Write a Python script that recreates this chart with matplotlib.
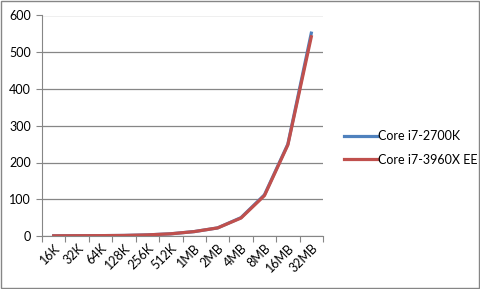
import numpy as np
import matplotlib
matplotlib.use('Agg')
import matplotlib.pyplot as plt
from matplotlib.patches import Rectangle

plt.rcParams['font.family'] = ['Lato', 'DejaVu Sans']

# Data
sizes = ['16K', '32K', '64K', '128K', '256K', '512K', '1MB', '2MB', '4MB', '8MB', '16MB', '32MB']
core_2700k = [0.5, 0.8, 1.0, 1.5, 3, 6, 12, 22, 50, 112, 250, 552]
core_3960x = [0.5, 0.8, 1.0, 1.5, 3, 6, 12, 22, 49, 110, 248, 542]

fig = plt.figure(figsize=(4.8, 2.89), dpi=100)
ax = fig.add_axes([42 / 480, 1 - 236 / 289, 281 / 480, 220.5 / 289])

x = np.arange(len(sizes))
ax.plot(x, core_2700k, color='#4F81BD', linewidth=2.3, label='Core i7-2700K', zorder=3)
ax.plot(x, core_3960x, color='#C0504D', linewidth=2.3, label='Core i7-3960X EE', zorder=4)

ax.set_xlim(-0.5, len(sizes) - 0.5)
ax.set_ylim(0, 600)
ax.set_yticks(np.arange(0, 601, 100))
ax.set_xticks(np.arange(-0.5, len(sizes), 1), minor=False)
ax.set_xticklabels([])
ax.set_xticks(x, minor=True)
ax.set_xticklabels(sizes, minor=True, rotation=45, ha='right', rotation_mode='anchor')
ax.tick_params(axis='x', which='minor', length=0, pad=4, labelsize=9, colors='#000000')
ax.tick_params(axis='x', which='major', length=4, color='#868686', direction='out')
ax.tick_params(axis='y', length=4, color='#868686', labelsize=9, pad=4)

ax.grid(axis='y', color='#868686', linewidth=0.9)
ax.set_axisbelow(True)
for s in ['top', 'right']:
    ax.spines[s].set_visible(False)
ax.spines['left'].set_color('#868686')
ax.spines['bottom'].set_color('#868686')

fig.legend(loc='upper left', bbox_to_anchor=(333 / 480, 1 - 119 / 289), frameon=False,
           fontsize=9, handlelength=2.6, handletextpad=0.1, labelspacing=0.9)

fig.patches.append(Rectangle((0.002, 0.003), 0.995, 0.993, transform=fig.transFigure,
                             fill=False, edgecolor='#868686', linewidth=1))

fig.savefig('out.png', dpi=100)
